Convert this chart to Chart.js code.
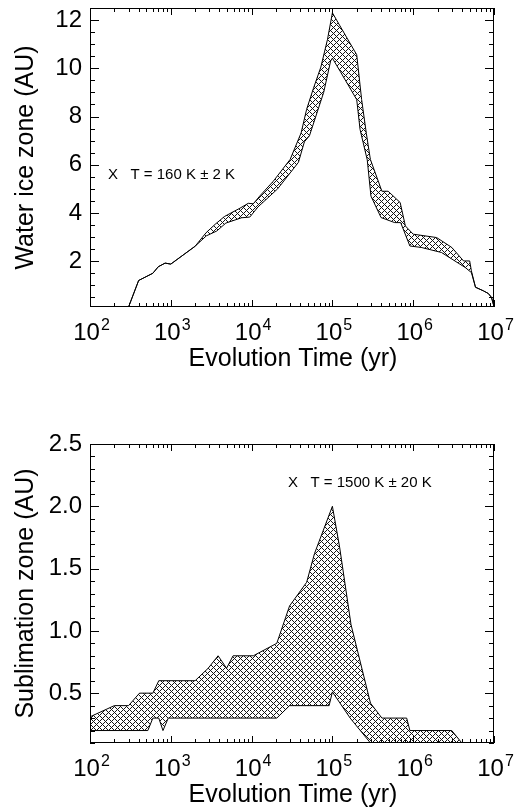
<!DOCTYPE html>
<html><head><meta charset="utf-8">
<script src="https://cdn.jsdelivr.net/npm/chart.js@4/dist/chart.umd.min.js"></script>
<style>
html,body{margin:0;padding:0;background:#fff;}
#wrap{position:relative;width:514px;height:810px;overflow:hidden;}
#c1{position:absolute;left:0;top:0;}
#c2{position:absolute;left:0;top:400px;}
</style></head><body>
<div id="wrap"><canvas id="c1" width="514" height="400"></canvas><canvas id="c2" width="514" height="410"></canvas></div>
<script>
// ---- data (years, AU) ----
const xDecades = [2, 3, 4, 5, 6, 7];
const waterYTicks = [2, 4, 6, 8, 10, 12];
const sublYTicks = [0.5, 1.0, 1.5, 2.0, 2.5];

const waterLowerX = [100, 300, 400, 600, 700, 850, 1000, 2000, 2750, 3700, 4800, 7500, 9500, 12000, 21000, 30000, 38000, 45000, 52000, 78000, 95000, 100000, 125000, 200000, 220000, 270000, 300000, 400000, 590000, 700000, 910000, 1260000, 2240000, 4400000, 5250000, 5900000, 7400000, 8500000, 9300000, 10000000];
const waterLowerY = [0.1, 0.1, 1.2, 1.5, 1.77, 1.92, 1.88, 2.62, 3.05, 3.25, 3.58, 3.8, 3.83, 4.25, 5.0, 5.66, 6.1, 6.95, 7.2, 9.0, 10.3, 10.42, 9.87, 8.7, 7.46, 6.2, 4.7, 3.81, 3.6, 3.6, 2.63, 2.57, 2.36, 1.74, 1.53, 0.92, 0.77, 0.66, 0.5, 0.12];
const waterUpperX = [100, 300, 400, 600, 700, 850, 1000, 2000, 2750, 3600, 4600, 7200, 9100, 10500, 12600, 18600, 30000, 41000, 48000, 58000, 72000, 87000, 100000, 200000, 230000, 263000, 295000, 410000, 490000, 690000, 800000, 1000000, 1950000, 3000000, 4200000, 5000000, 5250000, 5900000, 7400000, 8500000, 9300000, 10000000];
const waterUpperY = [0.1, 0.1, 1.2, 1.5, 1.77, 1.92, 1.88, 2.62, 3.19, 3.55, 3.85, 4.2, 4.4, 4.38, 4.7, 5.32, 6.22, 7.32, 8.3, 9.15, 10.05, 11.2, 12.3, 10.56, 8.7, 7.3, 6.22, 4.9, 4.9, 4.43, 3.46, 3.12, 2.98, 2.57, 2.01, 2.01, 1.6, 0.92, 0.77, 0.66, 0.5, 0.12];

const sublLowerX = [100, 520, 600, 710, 800, 930, 20500, 29500, 91000, 100000, 166000, 296000, 400000, 10000000];
const sublLowerY = [0.2, 0.2, 0.3, 0.3, 0.2, 0.3, 0.3, 0.4, 0.4, 0.51, 0.3, 0.1, 0.0, 0.0];
const sublUpperX = [100, 200, 300, 410, 600, 710, 2000, 2900, 3850, 4900, 5900, 10500, 20500, 29500, 48000, 60000, 100000, 123000, 170000, 296000, 410000, 830000, 910000, 3000000, 4000000, 5000000, 10000000];
const sublUpperY = [0.31, 0.4, 0.4, 0.5, 0.5, 0.6, 0.6, 0.7, 0.8, 0.7, 0.8, 0.8, 0.9, 1.2, 1.39, 1.62, 2.0, 1.67, 1.05, 0.42, 0.3, 0.3, 0.2, 0.2, 0.1, 0.0, 0.0];

const FAM = '"Liberation Sans", Arial, Helvetica, sans-serif';

function hatchPattern() {
  const s = 6;
  const c = document.createElement('canvas');
  c.width = s; c.height = s;
  const g = c.getContext('2d');
  const img = g.createImageData(s, s);
  for (let yy = 0; yy < s; yy++) {
    for (let xx = 0; xx < s; xx++) {
      const on = ((xx + yy) % s === 0) || (((xx - yy) % s + s) % s === 0);
      const i = (yy * s + xx) * 4;
      const v = on ? 20 : 255;
      img.data[i] = v; img.data[i + 1] = v; img.data[i + 2] = v; img.data[i + 3] = 255;
    }
  }
  g.putImageData(img, 0, 0);
  return g.createPattern(c, 'repeat');
}

function pts(xs, ys) { return xs.map((x, i) => ({ x: x, y: ys[i] })); }

function idlAxes(o) {
  return {
    id: 'idlAxes',
    afterDatasetsDraw(chart) {
      const ctx = chart.ctx, a = chart.chartArea, xs = chart.scales.x, ys = chart.scales.y;
      ctx.save();
      ctx.strokeStyle = '#000'; ctx.lineWidth = 1;
      ctx.strokeRect(a.left + 0.5, a.top + 0.5, a.right - a.left - 1, a.bottom - a.top - 1);
      ctx.beginPath();
      for (let i = 0; i < xDecades.length; i++) {
        const e = xDecades[i];
        const px = Math.round(xs.getPixelForValue(Math.pow(10, e))) + 0.5;
        ctx.moveTo(px, a.bottom); ctx.lineTo(px, a.bottom - 7);
        ctx.moveTo(px, a.top); ctx.lineTo(px, a.top + 7);
        if (i < xDecades.length - 1) {
          for (let m = 2; m <= 9; m++) {
            const q = Math.round(xs.getPixelForValue(m * Math.pow(10, e))) + 0.5;
            ctx.moveTo(q, a.bottom); ctx.lineTo(q, a.bottom - 4);
            ctx.moveTo(q, a.top); ctx.lineTo(q, a.top + 4);
          }
        }
      }
      const nMinor = Math.round((ys.max) / o.minorStep);
      for (let k = 1; k <= nMinor; k++) {
        const v = k * o.minorStep;
        if (v < ys.min - 1e-9 || v > ys.max + 1e-9) continue;
        const isMajor = o.yTicks.some(t => Math.abs(t - v) < 1e-6);
        const len = isMajor ? 9 : 5;
        const py = Math.round(ys.getPixelForValue(v)) + 0.5;
        ctx.moveTo(a.left, py); ctx.lineTo(a.left + len, py);
        ctx.moveTo(a.right, py); ctx.lineTo(a.right - len, py);
      }
      ctx.stroke();

      ctx.fillStyle = '#000';
      // y tick labels
      ctx.font = '24px ' + FAM;
      ctx.textAlign = 'right'; ctx.textBaseline = 'middle';
      for (const t of o.yTicks) {
        ctx.fillText(o.yFmt(t), a.left - 8, ys.getPixelForValue(t));
      }
      // x tick labels 10^n
      ctx.textAlign = 'left'; ctx.textBaseline = 'alphabetic';
      for (const e of xDecades) {
        const px = xs.getPixelForValue(Math.pow(10, e));
        ctx.font = '24px ' + FAM;
        const wb = ctx.measureText('10').width;
        ctx.font = '16px ' + FAM;
        const we = ctx.measureText(String(e)).width;
        const x0 = px - (wb + we) / 2 + 1;
        ctx.font = '24px ' + FAM;
        ctx.fillText('10', x0, a.bottom + 33);
        ctx.font = '16px ' + FAM;
        ctx.fillText(String(e), x0 + wb + 1, a.bottom + 23);
      }
      // axis titles
      ctx.font = '25px ' + FAM;
      ctx.textAlign = 'center';
      ctx.fillText('Evolution Time (yr)', (a.left + a.right) / 2 + 1, a.bottom + 59);
      ctx.save();
      ctx.translate(33, (a.top + a.bottom) / 2);
      ctx.rotate(-Math.PI / 2);
      ctx.fillText(o.yTitle, 0, 0);
      ctx.restore();
      // annotation
      ctx.font = '15px ' + FAM;
      ctx.textAlign = 'left';
      ctx.fillText(o.note, o.noteX, o.noteY);
      ctx.restore();
    }
  };
}

function build(id, lx, ly, ux, uy, o) {
  const pat = hatchPattern();
  return new Chart(document.getElementById(id), {
    type: 'line',
    data: {
      datasets: [
        { data: pts(lx, ly), borderColor: '#000', borderWidth: 1, pointRadius: 0, fill: false, tension: 0 },
        { data: pts(ux, uy), borderColor: '#000', borderWidth: 1, pointRadius: 0, fill: '-1', backgroundColor: pat, tension: 0 }
      ]
    },
    options: {
      responsive: false, animation: false, devicePixelRatio: 1,
      layout: { padding: o.pad },
      plugins: { legend: { display: false }, tooltip: { enabled: false } },
      scales: {
        x: { type: 'logarithmic', min: 100, max: 1e7, display: false },
        y: { type: 'linear', min: o.yMin, max: o.yMax, display: false }
      }
    },
    plugins: [idlAxes(o)]
  });
}

build('c1', waterLowerX, waterLowerY, waterUpperX, waterUpperY, {
  pad: { left: 90, right: 20, top: 8, bottom: 93 },
  yMin: 0.1, yMax: 12.5, yTicks: waterYTicks, minorStep: 0.5,
  yFmt: v => String(v), yTitle: 'Water ice zone (AU)',
  note: 'X   T = 160 K \u00b1 2 K', noteX: 108, noteY: 179
});
build('c2', sublLowerX, sublLowerY, sublUpperX, sublUpperY, {
  pad: { left: 90, right: 20, top: 44, bottom: 67 },
  yMin: 0.1, yMax: 2.5, yTicks: sublYTicks, minorStep: 0.1,
  yFmt: v => v.toFixed(1), yTitle: 'Sublimation zone (AU)',
  note: 'X   T = 1500 K \u00b1 20 K', noteX: 288, noteY: 87
});
</script>
</body></html>
